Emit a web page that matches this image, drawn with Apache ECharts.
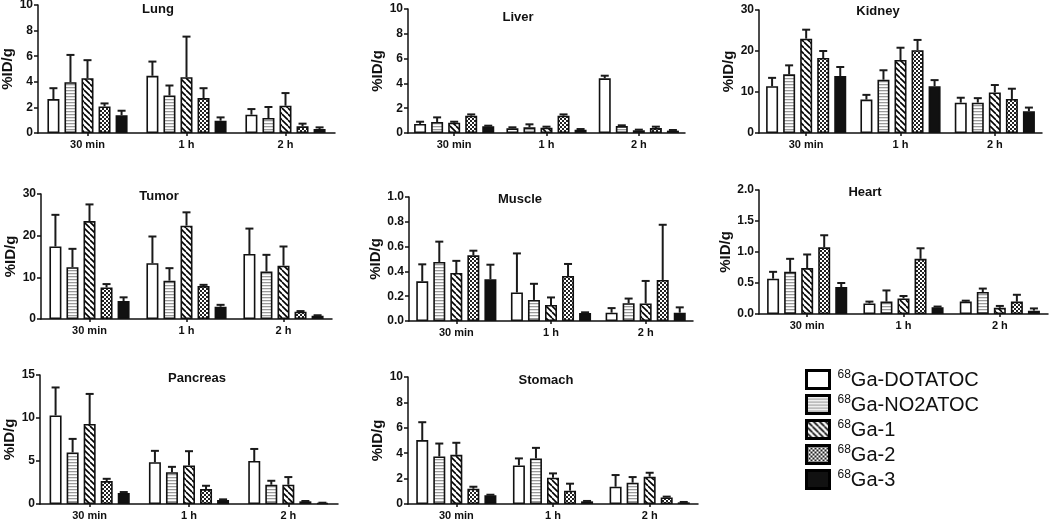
<!DOCTYPE html>
<html>
<head>
<meta charset="utf-8">
<script src="https://cdn.jsdelivr.net/npm/echarts@6/dist/echarts.min.js"></script>
<style>
html,body{margin:0;padding:0;background:#fff;}
#chart{width:1050px;height:519px;}
</style>
</head>
<body>
<div id="chart"></div>
<script>
// ---------------- DATA ----------------
const categories = ['30 min', '1 h', '2 h'];
const seriesNames = ['68Ga-DOTATOC', '68Ga-NO2ATOC', '68Ga-1', '68Ga-2', '68Ga-3'];
const yAxisName = '%ID/g';

// mean values: one row per tracer (DOTATOC, NO2ATOC, 1, 2, 3), columns = time points
// hi values: upper end of the error bar
const lungMean = [[2.65, 4.47, 1.43], [3.97, 2.93, 1.17], [4.28, 4.36, 2.13], [2.08, 2.73, 0.52], [1.38, 0.96, 0.31]];
const lungHi   = [[3.50, 5.58, 1.87], [6.10, 3.71, 2.03], [5.69, 7.53, 3.12], [2.31, 3.50, 0.73], [1.74, 1.22, 0.44]];

const liverMean = [[0.73, 0.38, 4.41], [0.89, 0.46, 0.56], [0.83, 0.43, 0.22], [1.40, 1.40, 0.40], [0.54, 0.27, 0.19]];
const liverHi   = [[0.91, 0.46, 4.62], [1.26, 0.70, 0.62], [0.91, 0.51, 0.27], [1.50, 1.50, 0.51], [0.59, 0.32, 0.24]];

const kidneyMean = [[11.4, 8.15, 7.4], [14.3, 13.0, 7.4], [23.0, 17.8, 9.9], [18.3, 20.2, 8.3], [13.9, 11.4, 5.3]];
const kidneyHi   = [[13.45, 9.3, 8.6], [16.5, 15.3, 8.5], [25.2, 20.8, 11.7], [20.0, 22.7, 10.8], [16.1, 12.9, 6.2]];

const tumorMean = [[17.4, 13.4, 15.6], [12.45, 9.2, 11.4], [23.5, 22.4, 12.8], [7.58, 7.9, 1.76], [4.3, 2.95, 0.8]];
const tumorHi   = [[25.0, 19.8, 21.7], [16.84, 12.2, 15.4], [27.5, 25.6, 17.4], [8.38, 8.2, 1.9], [5.2, 3.4, 0.9]];

const muscleMean = [[0.32, 0.23, 0.067], [0.476, 0.17, 0.144], [0.387, 0.13, 0.141], [0.53, 0.363, 0.331], [0.336, 0.064, 0.067]];
const muscleHi   = [[0.457, 0.545, 0.104], [0.64, 0.30, 0.181], [0.485, 0.19, 0.323], [0.567, 0.46, 0.776], [0.454, 0.07, 0.11]];

const heartMean = [[0.57, 0.17, 0.20], [0.68, 0.20, 0.355], [0.74, 0.25, 0.10], [1.075, 0.89, 0.20], [0.435, 0.11, 0.054]];
const heartHi   = [[0.68, 0.20, 0.215], [0.89, 0.38, 0.41], [0.96, 0.29, 0.13], [1.27, 1.06, 0.31], [0.50, 0.12, 0.09]];

const pancreasMean = [[10.3, 4.86, 5.0], [6.0, 3.7, 2.24], [9.3, 4.48, 2.24], [2.66, 1.74, 0.31], [1.27, 0.46, 0.12]];
const pancreasHi   = [[13.55, 6.18, 6.4], [7.57, 4.32, 2.7], [12.8, 6.14, 3.13], [2.93, 2.12, 0.35], [1.39, 0.54, 0.15]];

const stomachMean = [[5.03, 3.04, 1.36], [3.74, 3.59, 1.68], [3.87, 2.07, 2.15], [1.2, 1.05, 0.52], [0.68, 0.21, 0.13]];
const stomachHi   = [[6.44, 3.59, 2.28], [4.76, 4.42, 2.12], [4.82, 2.41, 2.46], [1.36, 1.6, 0.58], [0.73, 0.24, 0.16]];

// y-axis ranges (max, tick step, decimals)
const lungAxis = [10, 2, 0];
const liverAxis = [10, 2, 0];
const kidneyAxis = [30, 10, 0];
const tumorAxis = [30, 10, 0];
const muscleAxis = [1, 0.2, 1];
const heartAxis = [2, 0.5, 1];
const pancreasAxis = [15, 5, 0];
const stomachAxis = [10, 2, 0];

// ---------------- LAYOUT / STYLE ----------------
const FONT = 'Arial, "Liberation Sans", sans-serif';
const BAR_W = 12;
const BAR_GAP = 0.42;
const PITCH = BAR_W * (1 + BAR_GAP);

const panels = [
  { title: 'Lung',     mean: lungMean,     hi: lungHi,     ax: lungAxis,     grid: { left: 38,  top: 5,   width: 297, height: 128 }, tx: 158, ty: 3 },
  { title: 'Liver',    mean: liverMean,    hi: liverHi,    ax: liverAxis,    grid: { left: 408, top: 9,   width: 277, height: 124 }, tx: 518, ty: 11 },
  { title: 'Kidney',   mean: kidneyMean,   hi: kidneyHi,   ax: kidneyAxis,   grid: { left: 759, top: 10,  width: 283, height: 123 }, tx: 878, ty: 5 },
  { title: 'Tumor',    mean: tumorMean,    hi: tumorHi,    ax: tumorAxis,    grid: { left: 41,  top: 194, width: 291, height: 125 }, tx: 159, ty: 190 },
  { title: 'Muscle',   mean: muscleMean,   hi: muscleHi,   ax: muscleAxis,   grid: { left: 409, top: 197, width: 284, height: 124 }, tx: 520, ty: 193 },
  { title: 'Heart',    mean: heartMean,    hi: heartHi,    ax: heartAxis,    grid: { left: 759, top: 190, width: 289, height: 124 }, tx: 865, ty: 186 },
  { title: 'Pancreas', mean: pancreasMean, hi: pancreasHi, ax: pancreasAxis, grid: { left: 40,  top: 375, width: 298, height: 129 }, tx: 197, ty: 372 },
  { title: 'Stomach',  mean: stomachMean,  hi: stomachHi,  ax: stomachAxis,  grid: { left: 408, top: 377, width: 290, height: 127 }, tx: 546, ty: 374 }
];

function makePattern(kind) {
  const c = document.createElement('canvas');
  let ctx;
  if (kind === 'horiz') {
    c.width = 4; c.height = 3;
    ctx = c.getContext('2d');
    ctx.fillStyle = '#ffffff'; ctx.fillRect(0, 0, 4, 3);
    ctx.fillStyle = '#9a9a9a'; ctx.fillRect(0, 0, 4, 1);
    ctx.fillStyle = '#e2e2e2'; ctx.fillRect(0, 1, 4, 1);
  } else if (kind === 'diag') {
    c.width = 6; c.height = 6;
    ctx = c.getContext('2d');
    ctx.fillStyle = '#ffffff'; ctx.fillRect(0, 0, 6, 6);
    ctx.strokeStyle = '#000000'; ctx.lineWidth = 1.6;
    for (const o of [-6, 0, 6]) {
      ctx.beginPath(); ctx.moveTo(o, 0); ctx.lineTo(o + 6, 6); ctx.stroke();
    }
  } else if (kind === 'check') {
    c.width = 4; c.height = 4;
    ctx = c.getContext('2d');
    ctx.fillStyle = '#222222'; ctx.fillRect(0, 0, 4, 4);
    ctx.fillStyle = '#ffffff';
    ctx.fillRect(0, 0, 2, 2); ctx.fillRect(2, 2, 2, 2);
  }
  return { image: c, repeat: 'repeat' };
}

const fills = [
  '#ffffff',
  makePattern('horiz'),
  makePattern('diag'),
  makePattern('check'),
  '#111111'
];

const grids = [], xAxes = [], yAxes = [], series = [], graphics = [];

panels.forEach((p, pi) => {
  grids.push(Object.assign({ outerBoundsMode: 'none', containLabel: false }, p.grid));
  xAxes.push({
    type: 'category', gridIndex: pi, data: categories,
    axisLine: { show: true, lineStyle: { color: '#111', width: 1.5 } },
    axisTick: { show: true, alignWithLabel: true, length: 3, lineStyle: { color: '#111', width: 1.5 } },
    axisLabel: { color: '#111', fontWeight: 'bold', fontSize: 11, fontFamily: FONT, margin: 6 },
    splitLine: { show: false }
  });
  const dec = p.ax[2];
  yAxes.push({
    type: 'value', gridIndex: pi, min: 0, max: p.ax[0], interval: p.ax[1],
    name: yAxisName, nameLocation: 'middle', nameRotate: 90, nameGap: 22,
    nameTextStyle: { color: '#111', fontWeight: 'bold', fontSize: 15, fontFamily: FONT },
    axisLine: { show: true, lineStyle: { color: '#111', width: 1.5 } },
    axisTick: { show: true, length: 4, lineStyle: { color: '#111', width: 1.5 } },
    axisLabel: { color: '#111', fontWeight: 'bold', fontSize: 12, fontFamily: FONT, margin: 5,
      formatter: v => v.toFixed(dec) },
    splitLine: { show: false }
  });
  const errData = [];
  seriesNames.forEach((name, si) => {
    series.push({
      type: 'bar', name: name, xAxisIndex: pi, yAxisIndex: pi,
      data: p.mean[si], barWidth: BAR_W, barGap: (BAR_GAP * 100) + '%',
      itemStyle: { color: fills[si], borderColor: '#111', borderWidth: 1.6 },
      emphasis: { disabled: true }, z: 2
    });
    p.mean[si].forEach((m, ci) => errData.push([ci, m, p.hi[si][ci], si]));
  });
  series.push({
    type: 'custom', xAxisIndex: pi, yAxisIndex: pi, z: 3, silent: true,
    encode: { x: 0, y: [1, 2] },
    data: errData,
    renderItem: function (params, api) {
      const ci = api.value(0), m = api.value(1), h = api.value(2), si = api.value(3);
      const b = api.coord([ci, m]);
      const t = api.coord([ci, h]);
      const x = b[0] + (si - 2) * PITCH;
      const st = { stroke: '#1a1a1a', lineWidth: 2 };
      return {
        type: 'group',
        children: [
          { type: 'line', shape: { x1: x, y1: b[1], x2: x, y2: t[1] }, style: st },
          { type: 'line', shape: { x1: x - 4, y1: t[1], x2: x + 4, y2: t[1] }, style: st }
        ]
      };
    }
  });
  graphics.push({
    type: 'text', x: p.tx, y: p.ty, silent: true,
    style: { text: p.title, fill: '#111', font: 'bold 13px ' + FONT, textAlign: 'center', textVerticalAlign: 'top' }
  });
});

const chart = echarts.init(document.getElementById('chart'), null, { renderer: 'canvas' });
chart.setOption({
  animation: false,
  backgroundColor: '#ffffff',
  grid: grids,
  xAxis: xAxes,
  yAxis: yAxes,
  series: series,
  graphic: graphics,
  legend: {
    data: seriesNames,
    orient: 'vertical',
    left: 800, top: 364,
    itemWidth: 23, itemHeight: 18, itemGap: 4,
    icon: 'rect',
    selectedMode: false,
    itemStyle: { borderColor: '#000', borderWidth: 3 },
    textStyle: {
      color: '#111', fontFamily: FONT, padding: [0, 0, 0, 3],
      rich: {
        s: { fontSize: 12, fontFamily: FONT, color: '#111', lineHeight: 12, verticalAlign: 'top' },
        m: { fontSize: 20, fontFamily: FONT, color: '#111', lineHeight: 21, verticalAlign: 'bottom' }
      }
    },
    formatter: name => '{s|' + name.slice(0, 2) + '}{m|' + name.slice(2) + '}'
  }
});
</script>
</body>
</html>
